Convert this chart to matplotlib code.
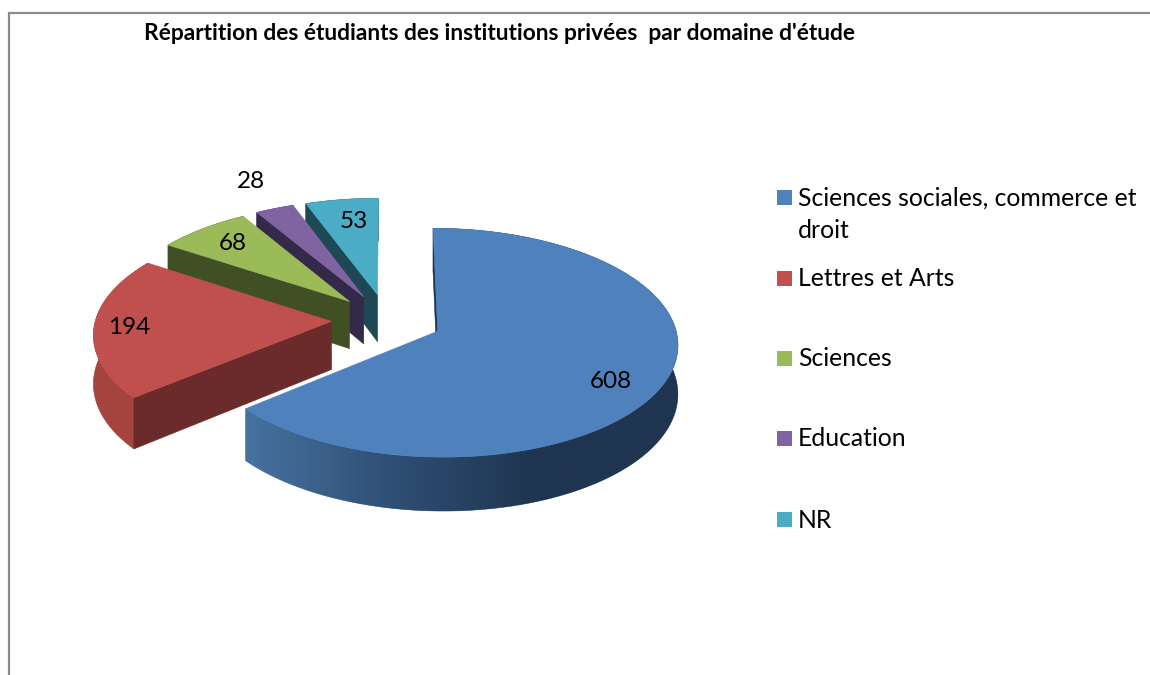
import numpy as np
import matplotlib
matplotlib.use("Agg")
import matplotlib.pyplot as plt
from matplotlib.colors import LinearSegmentedColormap
from matplotlib.patches import Polygon, Rectangle

categories = ["Sciences sociales, commerce et\ndroit", "Lettres et Arts", "Sciences", "Education", "NR"]
values = [608, 194, 68, 28, 53]
title = "Répartition des étudiants des institutions privées  par domaine d'étude"

top_colors = ["#4f81bd", "#c0504d", "#9bbb59", "#8064a2", "#4bacc6"]
cut_colors = ["#1f3550", "#6b2b2a", "#404f24", "#35294a", "#1f4855"]
rim_colors = ["#47729f", "#a5433f", "#404f24", "#35294a", "#1f4855"]

# projection of the tilted pie, in pixels
CX, CY = 387, 320
A, B = 236, 111
EXPLODE = 0.235
PERSP = 0.1
DEPTH = 48


def project(u, v, low=False):
    w = 1 + PERSP * v
    x = CX + A * u / w
    y = CY - B * v / w
    if low:
        y = y + DEPTH / w
    return x, y


fig = plt.figure(figsize=(11.5, 6.75), dpi=100)
ax = fig.add_axes([0, 0, 1, 1])
plt.rcParams["font.family"] = ["Lato", "DejaVu Sans"]

# chart frame, only left and top are in the picture
ax.plot([9, 9, 1150], [675, 13, 13], color="#8c8c8c", lw=1.6, solid_joinstyle="miter")

ends = np.cumsum(values) / np.sum(values) * 2 * np.pi
starts = np.concatenate([[0], ends[:-1]])
blue_cmap = LinearSegmentedColormap.from_list("rim", ["#47729f", "#2f4f75", "#1f3550", "#1f3550"])

# back to front so the big slice ends up on top
for i in [4, 3, 2, 1, 0]:
    mid = (starts[i] + ends[i]) / 2
    ou, ov = EXPLODE * np.sin(mid), EXPLODE * np.cos(mid)
    t = np.linspace(starts[i], ends[i], 160)
    u = ou + np.sin(t)
    v = ov + np.cos(t)
    x, y = project(u, v)
    xl, yl = project(u, v, low=True)
    z = 2 + (4 - i) * 2

    # outer rim
    rim = Polygon(np.column_stack([np.r_[x, xl[::-1]], np.r_[y, yl[::-1]]]),
                  closed=True, fc=rim_colors[i], ec=rim_colors[i], lw=0.4, zorder=z)
    ax.add_patch(rim)
    if i == 0:
        # the big slice has a gradient on its rim, clipped to the rim shape
        grad = np.linspace(0, 1, 256).reshape(1, -1)
        img = ax.imshow(grad, cmap=blue_cmap, extent=(x.min(), x.max(), yl.max(), y.min()),
                        aspect="auto", zorder=z)
        img.set_clip_path(rim)

    # cut face on the start side of the slice
    ax_, ay_ = project(ou, ov)
    axl, ayl = project(ou, ov, low=True)
    ax.add_patch(Polygon([(ax_, ay_), (x[0], y[0]), (xl[0], yl[0]), (axl, ayl)],
                         closed=True, fc=cut_colors[i], ec=cut_colors[i], lw=0.4, zorder=z))

    # top face
    ax.add_patch(Polygon(np.column_stack([np.r_[ax_, x], np.r_[ay_, y]]),
                         closed=True, fc=top_colors[i], ec=top_colors[i], lw=0.4, zorder=z + 1))

ax.set_xlim(0, 1150)
ax.set_ylim(675, 0)
ax.axis("off")

# value labels
label_pos = [(611, 382), (129, 327), (233, 243), (251, 181), (354, 221)]
for val, (lx, ly) in zip(values, label_pos):
    ax.text(lx, ly, str(val), fontsize=17.5, color="black", ha="center", va="center", zorder=20)

ax.text(500, 33, title, fontsize=16.35, fontweight="bold", color="black", ha="center", va="center")

# legend
legend_y = [197, 278, 358, 438, 519]
for name, col, ly in zip(categories, top_colors, legend_y):
    ax.add_patch(Rectangle((777, ly - 7), 15, 15, fc=col, ec="none"))
    lines = name.split("\n")
    for n, line in enumerate(lines):
        ax.text(798, ly + 1 + n * 32, line, fontsize=17.8, color="black", ha="left", va="center")

fig.savefig("out.png", dpi=100)
